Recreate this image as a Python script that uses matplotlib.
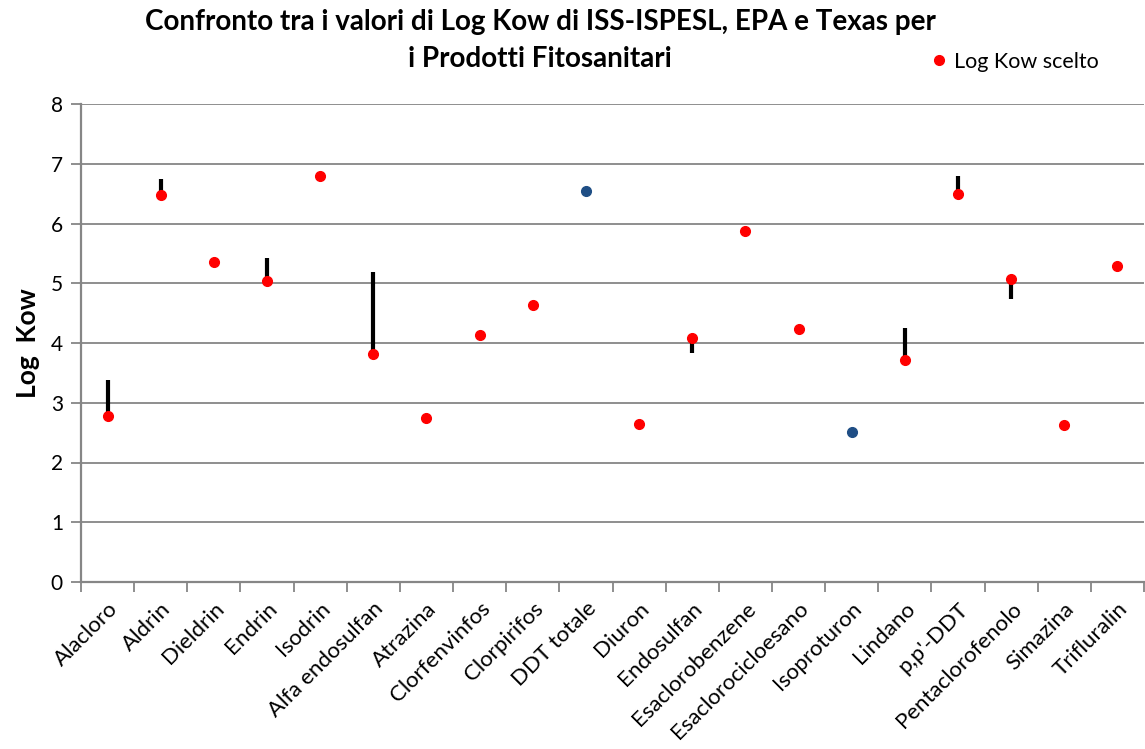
"""
Log Kow comparison chart (ISS-ISPESL, EPA, Texas) for plant protection products
"""

import matplotlib
matplotlib.use('Agg')
import matplotlib.pyplot as plt
import numpy as np

plt.rcParams['font.family'] = ['Lato', 'DejaVu Sans']

categories = ['Alacloro', 'Aldrin', 'Dieldrin', 'Endrin', 'Isodrin', 'Alfa endosulfan',
              'Atrazina', 'Clorfenvinfos', 'Clorpirifos', 'DDT totale', 'Diuron',
              'Endosulfan', 'Esaclorobenzene', 'Esaclorocicloesano', 'Isoproturon',
              'Lindano', "p,p'-DDT", 'Pentaclorofenolo', 'Simazina', 'Trifluralin']

# chosen Log Kow (red), None where not chosen
log_kow_scelto = [2.78, 6.47, 5.35, 5.04, 6.80, 3.81, 2.74, 4.13, 4.64, None, 2.65,
                  4.08, 5.87, 4.24, None, 3.71, 6.50, 5.07, 2.62, 5.29]
# other source value shown in blue
log_kow_altro = [None, None, None, None, None, None, None, None, None, 6.54, None,
                 None, None, None, 2.51, None, None, None, None, None]
# min / max across sources (black high-low lines)
range_low = [2.78, 6.40, 5.35, 5.04, 6.80, 3.81, 2.74, 4.13, 4.64, 6.54, 2.65,
             3.84, 5.87, 4.24, 2.51, 3.71, 6.50, 4.73, 2.62, 5.29]
range_high = [3.38, 6.74, 5.35, 5.42, 6.80, 5.19, 2.80, 4.13, 4.64, 6.54, 2.65,
              4.08, 5.87, 4.24, 2.51, 4.25, 6.80, 5.07, 2.62, 5.29]
y_ticks = [0, 1, 2, 3, 4, 5, 6, 7, 8]

fig = plt.figure(figsize=(11.45, 7.49), dpi=100)
ax = fig.add_axes([81 / 1145, 1 - 582 / 749, 1063 / 1145, 478 / 749])

x = np.arange(len(categories))
grey = '#868686'

ax.vlines(x, range_low, range_high, colors='black', linewidth=3, zorder=2)

sc = np.array([np.nan if v is None else v for v in log_kow_scelto])
alt = np.array([np.nan if v is None else v for v in log_kow_altro])
ax.plot(x, alt, linestyle='none', marker='o', markersize=7, color='#1F4E85', zorder=3)
line_sc, = ax.plot(x, sc, linestyle='none', marker='o', markersize=7, color='#FF0000',
                   zorder=4, label='Log Kow scelto')

ax.set_xlim(-0.5, len(categories) - 0.5)
ax.set_ylim(0, 8)
ax.set_yticks(y_ticks)
ax.set_yticklabels([str(t) for t in y_ticks], fontsize=15)
ax.yaxis.grid(True, color=grey, linewidth=1.3)
ax.set_axisbelow(True)

# category ticks between categories, labels at centers
ax.set_xticks(np.arange(len(categories) + 1) - 0.5)
ax.set_xticklabels([])
ax.set_xticks(x, minor=True)
ax.set_xticklabels(categories, minor=True, rotation=45, ha='right', va='top',
                   rotation_mode='anchor', fontsize=16)
ax.tick_params(axis='x', which='minor', length=0, pad=12)
ax.tick_params(axis='x', which='major', length=7, color=grey, width=1.3)
ax.tick_params(axis='y', length=7, color=grey, width=1.3, pad=6)

for side in ['top', 'right']:
    ax.spines[side].set_visible(False)
for side in ['left', 'bottom']:
    ax.spines[side].set_color(grey)
    ax.spines[side].set_linewidth(1.6)

ax.set_ylabel('Log  Kow', fontsize=19, fontweight='bold', labelpad=8)

fig.text(540 / 1145, 1 - 22 / 749,
         'Confronto tra i valori di Log Kow di ISS-ISPESL, EPA e Texas per',
         ha='center', va='center', fontsize=20, fontweight='bold')
fig.text(540 / 1145, 1 - 59 / 749, 'i Prodotti Fitosanitari',
         ha='center', va='center', fontsize=20, fontweight='bold')

fig.legend(handles=[line_sc], loc='center left', frameon=False,
           bbox_to_anchor=(922 / 1145, 1 - 62 / 749), fontsize=15.5,
           handlelength=0.8, handletextpad=0.3, borderaxespad=0)

fig.savefig('out.png', dpi=100)
plt.close(fig)
